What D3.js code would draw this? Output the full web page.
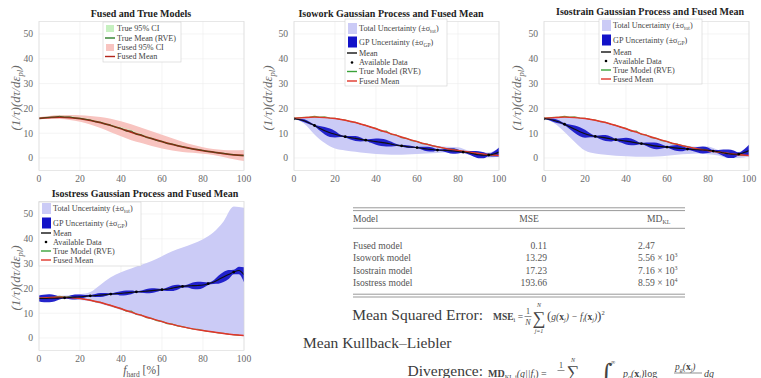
<!DOCTYPE html>
<html>
<head>
<meta charset="utf-8">
<script src="https://cdn.jsdelivr.net/npm/d3@7/dist/d3.min.js"></script>
<style>
body { margin: 0; background: #fff; }
svg { font-family: "Liberation Serif", "DejaVu Serif", serif; }
</style>
</head>
<body>
<svg id="fig" width="761" height="378"></svg>
<script>
// x grids (f_hard, %)
var grid5 = [0, 5, 10, 15, 20, 25, 30, 35, 40, 45, 50, 55, 60, 65, 70, 75, 80, 85, 90, 95, 100];
var grid25 = [0, 2.5, 5, 7.5, 10, 12.5, 15, 17.5, 20, 22.5, 25, 27.5, 30, 32.5, 35, 37.5, 40, 42.5, 45, 47.5,
  50, 52.5, 55, 57.5, 60, 62.5, 65, 67.5, 70, 72.5, 75, 77.5, 80, 82.5, 85, 87.5, 90, 92.5, 95, 97.5, 100];

var xTicks = [0, 20, 40, 60, 80, 100];
var yTicks = [0, 10, 20, 30, 40, 50];

// fused model (same in every panel)
var fusedMean = [16.0, 16.3, 16.5, 16.3, 15.9, 15.2, 14.3, 13.1, 11.8, 10.4, 9.1, 7.8, 6.6, 5.5, 4.5, 3.7, 3.0, 2.4, 1.8, 1.3, 1.0];
var fusedCI = [0.4, 0.6, 0.8, 1.0, 1.3, 1.7, 2.2, 2.7, 3.0, 3.2, 3.1, 3.0, 2.8, 2.5, 2.1, 1.6, 1.3, 1.2, 1.4, 1.8, 2.2];

// true model (RVE), on the 2.5 grid
var trueMean = [16.0, 16.2, 16.4, 16.5, 16.8, 16.5, 16.6, 16.1, 16.0, 15.6, 15.3, 14.6, 14.4, 13.6, 13.2, 12.3, 12.0, 10.8, 10.9, 9.5,
  9.3, 8.2, 7.9, 7.0, 6.7, 5.8, 5.6, 4.9, 4.6, 4.0, 3.6, 3.5, 3.0, 2.6, 2.4, 2.0, 1.9, 1.5, 1.3, 1.1, 1.0];
var trueCI = [0.2, 0.3, 0.3, 0.3, 0.4, 0.4, 0.4, 0.5, 0.5, 0.5, 0.5, 0.5, 0.4, 0.4, 0.4, 0.3, 0.3, 0.3, 0.3, 0.3, 0.3];

// isowork GP
var isoworkMean = [15.8, 15.5, 15.0, 14.1, 13.1, 12.0, 11.0, 10.2, 9.6, 9.0, 8.6, 8.2, 7.9, 7.5, 7.2, 6.9, 6.6, 6.3, 6.0, 5.6,
  5.2, 4.9, 4.6, 4.4, 4.2, 3.9, 3.6, 3.4, 3.2, 3.1, 3.0, 2.8, 2.6, 2.4, 2.1, 1.7, 1.3, 1.1, 1.2, 1.6, 2.4];
var isoworkSigma = [0.0, 0.3, 0.6, 0.5, 0.3, 0.9, 1.5, 1.7, 1.3, 0.5, 0.3, 0.7, 1.0, 0.8, 0.3, 0.8, 1.3, 1.5, 1.4, 1.0,
  0.4, 0.3, 0.5, 0.4, 0.2, 0.6, 0.9, 0.8, 0.3, 0.4, 0.9, 1.1, 0.8, 0.3, 0.6, 1.1, 1.4, 1.2, 0.5, 1.0, 1.8];
var isoworkTotLo = [15.8, 13.8, 9.5, 6.0, 3.8, 3.0, 2.5, 2.0, 1.6, 1.4, 1.3, 1.4, 1.6, 1.8, 2.0, 2.3, 2.0, 1.4, 0.2, 0.2, 0.6];
var isoworkTotHi = [16.0, 16.3, 16.5, 16.3, 15.9, 15.2, 14.3, 13.1, 11.8, 10.4, 9.1, 7.8, 6.7, 5.7, 4.8, 4.5, 4.3, 3.0, 2.6, 2.2, 4.0];
var isoworkDataX = [0, 10, 25, 35, 52.5, 60, 70, 82.5, 95];
var isoworkDataY = [15.8, 13.1, 8.6, 7.2, 4.9, 4.2, 3.2, 2.4, 1.2];

// isostrain GP
var isostrainMean = [15.8, 15.6, 15.1, 14.5, 13.6, 12.6, 11.6, 10.6, 9.8, 9.2, 8.7, 8.4, 8.1, 7.7, 7.4, 7.1, 6.8, 6.5, 6.1, 5.8,
  5.5, 5.1, 4.8, 4.6, 4.4, 4.2, 4.0, 3.8, 3.6, 3.4, 3.3, 3.2, 3.1, 2.8, 2.5, 2.1, 1.7, 1.5, 1.6, 2.2, 3.0];
var isostrainSigma = [0.0, 0.4, 0.7, 0.6, 0.4, 0.9, 1.5, 1.8, 1.6, 0.8, 0.3, 0.8, 1.2, 1.0, 0.4, 0.9, 1.4, 1.4, 0.9, 0.3,
  0.7, 1.2, 1.3, 0.8, 0.3, 0.8, 1.2, 1.1, 0.4, 0.6, 1.1, 1.4, 1.1, 0.4, 0.7, 1.3, 1.7, 1.5, 0.6, 1.2, 2.3];
var isostrainTotLo = [15.8, 14.0, 10.5, 6.5, 3.0, 1.8, 1.3, 0.9, 0.7, 0.5, 0.5, 0.6, 0.9, 1.3, 1.6, 1.8, 1.5, 1.0, 0.0, 0.0, 0.6];
var isostrainTotHi = [16.0, 16.3, 16.5, 16.3, 15.9, 15.2, 14.3, 13.1, 11.8, 10.4, 9.1, 7.8, 6.7, 5.7, 4.9, 4.5, 4.6, 3.2, 2.6, 2.4, 4.6];
var isostrainDataX = [0, 10, 25, 35, 47.5, 60, 70, 82.5, 95];
var isostrainDataY = [15.8, 13.6, 8.7, 7.4, 5.8, 4.4, 3.6, 2.8, 1.6];

// isostress GP
var isostressMean = [15.9, 15.9, 16.0, 16.0, 16.1, 16.2, 16.3, 16.5, 16.6, 16.8, 17.0, 17.1, 17.3, 17.5, 17.7, 17.9, 18.0, 18.2, 18.4, 18.6,
  18.7, 18.9, 19.1, 19.3, 19.5, 19.7, 20.1, 20.5, 20.8, 21.0, 21.1, 21.2, 21.4, 21.9, 22.5, 23.5, 24.6, 25.6, 26.6, 27.2, 25.5];
var isostressSigma = [1.2, 1.5, 1.6, 1.3, 0.6, 0.3, 0.7, 1.0, 0.9, 0.5, 0.3, 0.6, 0.8, 0.6, 0.3, 0.5, 0.9, 1.0, 0.8, 0.3,
  0.5, 0.9, 1.0, 0.7, 0.3, 0.7, 1.1, 1.0, 0.4, 0.6, 1.3, 1.5, 1.2, 0.5, 0.7, 1.6, 2.0, 1.8, 0.9, 1.5, 3.0];
var isostressTotLo = [15.5, 15.5, 15.8, 15.7, 15.3, 14.8, 13.8, 12.6, 11.3, 10.0, 8.7, 7.5, 6.3, 5.2, 4.3, 3.5, 2.8, 2.2, 1.6, 1.1, 0.6];
var isostressTotHi = [17.3, 17.6, 17.0, 17.2, 17.6, 18.5, 21.5, 24.5, 26.5, 28.0, 29.5, 31.0, 33.0, 35.0, 36.5, 38.0, 39.8, 42.5, 47.0, 53.0, 52.5];
var isostressDataX = [12.5, 25, 35, 47.5, 60, 70, 82.5, 95];
var isostressDataY = [16.2, 17.0, 17.7, 18.6, 19.5, 20.8, 21.9, 26.6];

// table
var tableModels = ['Fused model', 'Isowork model', 'Isostrain model', 'Isostress model'];
var tableMSE = ['0.11', '13.29', '17.23', '193.66'];
var tableMDBase = ['2.47', '5.56 × 10', '7.16 × 10', '8.59 × 10'];
var tableMDExp = ['', '3', '3', '4'];

var C = {
  total: '#cbcbf6', gp: '#1212c8', mean: '#111', fused: '#e0352a', trueLine: '#3aa23a',
  fusedCI: '#f8c4c0', trueCI: '#c6f0c0', tick: '#6a6a6a', grid: '#ececec'
};

var svg = d3.select('#fig');
var W = 205, H = 148.8;

function rows5(lo, hi) {
  return grid5.map(function(g, i) { return { x: g, lo: lo[i], hi: hi[i] }; });
}

function drawPanel(p) {
  var x = d3.scaleLinear().domain([0, 100]).range([p.left, p.left + W]);
  var y = d3.scaleLinear().domain([-5, 55]).range([p.top + H, p.top]);
  var g = svg.append('g');

  g.append('clipPath').attr('id', 'clip-' + p.id)
    .append('rect').attr('x', p.left).attr('y', p.top).attr('width', W).attr('height', H);

  // grid
  g.selectAll('.gx').data(xTicks).enter().append('line')
    .attr('x1', function(d) { return x(d); }).attr('x2', function(d) { return x(d); })
    .attr('y1', p.top).attr('y2', p.top + H).attr('stroke', C.grid).attr('stroke-width', 0.6);
  g.selectAll('.gy').data(yTicks).enter().append('line')
    .attr('y1', function(d) { return y(d); }).attr('y2', function(d) { return y(d); })
    .attr('x1', p.left).attr('x2', p.left + W).attr('stroke', C.grid).attr('stroke-width', 0.6);

  var plot = g.append('g').attr('clip-path', 'url(#clip-' + p.id + ')');
  var band = d3.area().x(function(d) { return x(d.x); })
    .y0(function(d) { return y(d.lo); }).y1(function(d) { return y(d.hi); })
    .curve(d3.curveMonotoneX);
  var line = d3.line().x(function(d) { return x(d.x); }).y(function(d) { return y(d.y); })
    .curve(d3.curveMonotoneX);
  var rawLine = d3.line().x(function(d) { return x(d.x); }).y(function(d) { return y(d.y); });

  var fusedRows = grid5.map(function(gx, i) { return { x: gx, y: fusedMean[i] }; });
  var trueRows = grid25.map(function(gx, i) { return { x: gx, y: trueMean[i] }; });

  if (p.kind === 'fused') {
    plot.append('path').datum(grid5.map(function(gx, i) {
      return { x: gx, lo: fusedMean[i] - fusedCI[i], hi: fusedMean[i] + fusedCI[i] };
    })).attr('d', band).attr('fill', C.fusedCI);
    var tci = grid5.map(function(gx, i) {
      return { x: gx, lo: trueMean[i * 2] - trueCI[i], hi: trueMean[i * 2] + trueCI[i] };
    });
    plot.append('path').datum(tci).attr('d', band).attr('fill', C.trueCI).attr('opacity', 0.6);
    plot.append('path').datum(fusedRows).attr('d', line)
      .attr('fill', 'none').attr('stroke', '#b3261c').attr('stroke-width', 1.8);
    plot.append('path').datum(trueRows).attr('d', rawLine)
      .attr('fill', 'none').attr('stroke', '#2f4f16').attr('stroke-width', 0.9).attr('opacity', 0.85);
  } else {
    plot.append('path').datum(rows5(p.totLo, p.totHi)).attr('d', band).attr('fill', C.total);
    var gpRows = grid25.map(function(gx, i) {
      return { x: gx, lo: p.mean[i] - p.sigma[i], hi: p.mean[i] + p.sigma[i] };
    });
    plot.append('path').datum(gpRows).attr('d', band).attr('fill', C.gp).attr('opacity', 0.92);
    // true model under the fused mean, so only its wiggles show
    plot.append('path').datum(trueRows).attr('d', rawLine)
      .attr('fill', 'none').attr('stroke', '#6a8f2a').attr('stroke-width', 1.1).attr('opacity', 0.9);
    plot.append('path').datum(fusedRows).attr('d', line)
      .attr('fill', 'none').attr('stroke', C.fused).attr('stroke-width', 1.4);
    plot.append('path').datum(grid25.map(function(gx, i) { return { x: gx, y: p.mean[i] }; }))
      .attr('d', line).attr('fill', 'none').attr('stroke', C.mean).attr('stroke-width', 1.1);
    plot.selectAll('.dot').data(p.dataX).enter().append('circle')
      .attr('cx', function(d) { return x(d); })
      .attr('cy', function(d, i) { return y(p.dataY[i]); })
      .attr('r', 1.4).attr('fill', '#000');
  }

  // box
  g.append('rect').attr('x', p.left).attr('y', p.top).attr('width', W).attr('height', H)
    .attr('fill', 'none').attr('stroke', '#d8d8d8').attr('stroke-width', 0.6);

  // tick labels
  g.selectAll('.tx').data(xTicks).enter().append('text')
    .attr('x', function(d) { return x(d); }).attr('y', p.top + H + 11.5)
    .attr('text-anchor', 'middle').attr('font-size', 9.6).attr('fill', C.tick)
    .text(function(d) { return d; });
  g.selectAll('.ty').data(yTicks).enter().append('text')
    .attr('x', p.left - 6).attr('y', function(d) { return y(d) + 3.3; })
    .attr('text-anchor', 'end').attr('font-size', 9.6).attr('fill', C.tick)
    .text(function(d) { return d; });

  // title
  g.append('text').attr('x', p.titleX).attr('y', p.titleY)
    .attr('text-anchor', 'middle').attr('font-size', 10).attr('font-weight', 'bold').attr('fill', '#222')
    .text(p.title);

  // y label
  var yl = g.append('text')
    .attr('transform', 'translate(' + p.ylabX + ',' + (p.top + H / 2 + 2) + ') rotate(-90)')
    .attr('text-anchor', 'middle').attr('font-size', 13).attr('font-style', 'italic').attr('fill', C.tick);
  yl.append('tspan').text('(1/τ)(dτ/dε');
  yl.append('tspan').attr('font-size', 8.5).attr('dy', 3).text('pl');
  yl.append('tspan').attr('dy', -3).text(')');

  if (p.xlabel) {
    var xl = g.append('text').attr('x', p.left + W / 2).attr('y', p.top + H + 24)
      .attr('text-anchor', 'middle').attr('font-size', 11.5).attr('fill', '#555');
    xl.append('tspan').attr('font-style', 'italic').text('f');
    xl.append('tspan').attr('font-size', 7.5).attr('dy', 3).text('hard');
    xl.append('tspan').attr('dy', -3).text(' [%]');
  }

  drawLegend(g, p.legend, p.kind);
}

function drawLegend(g, L, kind) {
  g.append('rect').attr('x', L.x).attr('y', L.y).attr('width', L.w).attr('height', L.h)
    .attr('fill', '#fff').attr('stroke', '#d0d0d0').attr('stroke-width', 0.6);
  var items;
  if (kind === 'fused') {
    items = [
      { t: 'True 95% CI', type: 'patch', c: C.trueCI },
      { t: 'True Mean (RVE)', type: 'line', c: '#2f7f2a' },
      { t: 'Fused 95% CI', type: 'patch', c: C.fusedCI },
      { t: 'Fused Mean', type: 'line', c: '#b3261c' }
    ];
  } else {
    items = [
      { t: 'Total Uncertainty (±σ', sub: 'tot', type: 'patch', c: C.total, big: true },
      { t: 'GP Uncertainty (±σ', sub: 'GP', type: 'patch', c: C.gp, big: true },
      { t: 'Mean', type: 'line', c: C.mean },
      { t: 'Available Data', type: 'dot', c: '#000' },
      { t: 'True Model (RVE)', type: 'line', c: C.trueLine },
      { t: 'Fused Mean', type: 'line', c: C.fused }
    ];
  }
  items.forEach(function(it, i) {
    var cy = L.y + L.rows[i];
    var sx = L.x + 2;
    if (it.type === 'patch') {
      var hh = it.big ? 11 : 7;
      g.append('rect').attr('x', sx + 1).attr('y', cy - hh / 2).attr('width', it.big ? 9 : 8).attr('height', hh)
        .attr('fill', it.c);
    } else if (it.type === 'line') {
      g.append('line').attr('x1', sx).attr('x2', sx + 10).attr('y1', cy).attr('y2', cy)
        .attr('stroke', it.c).attr('stroke-width', 1.4);
    } else {
      g.append('circle').attr('cx', sx + 5).attr('cy', cy).attr('r', 1.3).attr('fill', it.c);
    }
    var t = g.append('text').attr('x', sx + 12).attr('y', cy + 2.8)
      .attr('font-size', 8.2).attr('fill', '#444');
    t.append('tspan').text(it.t);
    if (it.sub) {
      t.append('tspan').attr('font-size', 5.5).attr('dy', 2).text(it.sub);
      t.append('tspan').attr('dy', -2).text(')');
    }
  });
}

var panelDefs = [
  { id: 'p1', kind: 'fused', left: 39, top: 21.6, title: 'Fused and True Models', titleX: 141, titleY: 16.5, ylabX: 20,
    legend: { x: 103, y: 22, w: 78, h: 40, rows: [6.5, 16, 25.5, 34.5] } },
  { id: 'p2', kind: 'gp', left: 294, top: 21.6, title: 'Isowork Gaussian Process and Fused Mean', titleX: 391, titleY: 16.5, ylabX: 272,
    mean: isoworkMean, sigma: isoworkSigma, totLo: isoworkTotLo, totHi: isoworkTotHi, dataX: isoworkDataX, dataY: isoworkDataY,
    legend: { x: 345, y: 19, w: 102, h: 67, rows: [9.5, 23, 34, 43.5, 52.5, 62] } },
  { id: 'p3', kind: 'gp', left: 544, top: 21.6, title: 'Isostrain Gaussian Process and Fused Mean', titleX: 650, titleY: 14.5, ylabX: 521,
    mean: isostrainMean, sigma: isostrainSigma, totLo: isostrainTotLo, totHi: isostrainTotHi, dataX: isostrainDataX, dataY: isostrainDataY,
    legend: { x: 599, y: 19, w: 103, h: 65, rows: [6.5, 21, 33, 42, 51, 60] } },
  { id: 'p4', kind: 'gp', left: 39, top: 201.6, title: 'Isostress Gaussian Process and Fused Mean', titleX: 145, titleY: 197, ylabX: 20,
    mean: isostressMean, sigma: isostressSigma, totLo: isostressTotLo, totHi: isostressTotHi, dataX: isostressDataX, dataY: isostressDataY,
    xlabel: true,
    legend: { x: 39, y: 202, w: 102, h: 64, rows: [6.5, 21, 31, 40, 49, 58] } }
];

panelDefs.forEach(drawPanel);

// ---- table ----
var tb = svg.append('g').attr('fill', '#555').attr('font-size', 9.6);
var tx0 = 353, tx1 = 685;
[207.8, 210.6, 228.3, 294.2, 297].forEach(function(yy) {
  tb.append('line').attr('x1', tx0).attr('x2', tx1).attr('y1', yy).attr('y2', yy)
    .attr('stroke', '#999').attr('stroke-width', 1);
});
tb.append('text').attr('x', tx0).attr('y', 222).text('Model');
tb.append('text').attr('x', 529).attr('y', 222).attr('text-anchor', 'middle').text('MSE');
var mh = tb.append('text').attr('x', 647).attr('y', 222);
mh.append('tspan').text('MD');
mh.append('tspan').attr('font-size', 6).attr('dy', 2).text('KL');

var rowY = [249, 261, 273.5, 285.5];
tableModels.forEach(function(m, i) {
  tb.append('text').attr('x', tx0).attr('y', rowY[i]).text(m);
  tb.append('text').attr('x', 547).attr('y', rowY[i]).attr('text-anchor', 'end').text(tableMSE[i]);
  var t = tb.append('text').attr('x', 638).attr('y', rowY[i]);
  t.append('tspan').text(tableMDBase[i]);
  if (tableMDExp[i]) t.append('tspan').attr('font-size', 6).attr('dy', -4).text(tableMDExp[i]);
});

// ---- formulas ----
var fm = svg.append('g').attr('fill', '#3a3a3a');
fm.append('text').attr('x', 483).attr('y', 320).attr('text-anchor', 'end').attr('font-size', 15.5)
  .text('Mean Squared Error:');
fm.append('text').attr('x', 303).attr('y', 348).attr('font-size', 15.5).text('Mean Kullback–Liebler');
fm.append('text').attr('x', 483).attr('y', 376).attr('text-anchor', 'end').attr('font-size', 15.5)
  .text('Divergence:');

function bx(t) {
  // bold x with subscript j
  t.append('tspan').attr('font-weight', 'bold').attr('font-style', 'normal').text('x');
  t.append('tspan').attr('font-size', 6).attr('dy', 2).text('j');
  t.append('tspan').attr('dy', -2).text(')');
}

var f1 = fm.append('g').attr('font-size', 9.5).attr('fill', '#444');
var ms = f1.append('text').attr('x', 493).attr('y', 320);
ms.append('tspan').attr('font-weight', 'bold').text('MSE');
ms.append('tspan').attr('font-size', 6.5).attr('dy', 2).text('i');
ms.append('tspan').attr('dy', -2).text(' =');
f1.append('text').attr('x', 528).attr('y', 314).attr('text-anchor', 'middle').attr('font-size', 8).text('1');
f1.append('line').attr('x1', 524.5).attr('x2', 531.5).attr('y1', 316.5).attr('y2', 316.5).attr('stroke', '#444').attr('stroke-width', 0.6);
f1.append('text').attr('x', 528).attr('y', 324.5).attr('text-anchor', 'middle').attr('font-size', 8).attr('font-style', 'italic').text('N');
f1.append('text').attr('x', 539).attr('y', 324).attr('text-anchor', 'middle').attr('font-size', 18).text('∑');
f1.append('text').attr('x', 539).attr('y', 307).attr('text-anchor', 'middle').attr('font-size', 6).attr('font-style', 'italic').text('N');
f1.append('text').attr('x', 539).attr('y', 332.5).attr('text-anchor', 'middle').attr('font-size', 6).attr('font-style', 'italic').text('j=1');
var mx = f1.append('text').attr('x', 547).attr('y', 320).attr('font-style', 'italic');
mx.append('tspan').attr('font-style', 'normal').attr('font-size', 13).text('(');
mx.append('tspan').text('g(');
bx(mx);
mx.append('tspan').text(' − f');
mx.append('tspan').attr('font-size', 6).attr('dy', 2).text('i');
mx.append('tspan').attr('dy', -2).text('(');
bx(mx);
mx.append('tspan').attr('font-style', 'normal').attr('font-size', 13).text(')');
mx.append('tspan').attr('font-size', 6.5).attr('dy', -5).attr('font-style', 'normal').text('2');

var f2 = fm.append('g').attr('font-size', 10).attr('fill', '#444');
var md = f2.append('text').attr('x', 488).attr('y', 377);
md.append('tspan').attr('font-weight', 'bold').text('MD');
md.append('tspan').attr('font-size', 6.5).attr('dy', 2).text('KL,i');
md.append('tspan').attr('dy', -2).attr('font-style', 'italic').text('(g||f');
md.append('tspan').attr('font-size', 6.5).attr('dy', 2).text('i');
md.append('tspan').attr('dy', -2).text(') =');
f2.append('text').attr('x', 561).attr('y', 368).attr('text-anchor', 'middle').attr('font-size', 8).text('1');
f2.append('line').attr('x1', 557.5).attr('x2', 564.5).attr('y1', 370.5).attr('y2', 370.5).attr('stroke', '#444').attr('stroke-width', 0.6);
f2.append('text').attr('x', 573).attr('y', 378).attr('text-anchor', 'middle').attr('font-size', 18).text('∑');
f2.append('text').attr('x', 573).attr('y', 362).attr('text-anchor', 'middle').attr('font-size', 6).attr('font-style', 'italic').text('N');
f2.append('text').attr('x', 600).attr('y', 381).attr('font-size', 24).attr('font-family', 'DejaVu Serif').text('∫');
f2.append('text').attr('x', 611).attr('y', 364).attr('font-size', 6).text('∞');
var pg = f2.append('text').attr('x', 623).attr('y', 377).attr('font-style', 'italic');
pg.append('tspan').text('p');
pg.append('tspan').attr('font-size', 6).attr('dy', 2).text('g');
pg.append('tspan').attr('dy', -2).text('(');
bx(pg);
pg.append('tspan').attr('font-style', 'normal').text('log');
var pn = f2.append('text').attr('x', 675).attr('y', 370).attr('font-style', 'italic').attr('font-size', 9.5);
pn.append('tspan').text('p');
pn.append('tspan').attr('font-size', 6).attr('dy', 2).text('g');
pn.append('tspan').attr('dy', -2).text('(');
bx(pn);
f2.append('line').attr('x1', 674).attr('x2', 702).attr('y1', 373).attr('y2', 373).attr('stroke', '#444').attr('stroke-width', 0.6);
f2.append('text').attr('x', 704).attr('y', 377).attr('font-style', 'italic').text('dg');
</script>
</body>
</html>
